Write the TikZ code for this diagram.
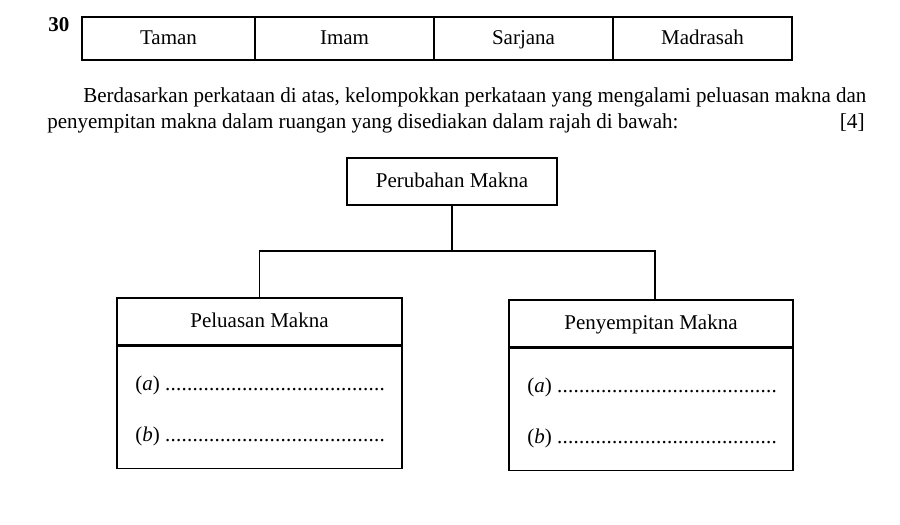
\documentclass[tikz,border=0pt]{standalone}
\usepackage{fontspec}
\setmainfont{Liberation Serif}
\usepackage{graphicx}
\tikzset{
  px/.style={x=0.6pt,y=-0.6pt},
  cell/.style={draw, line width=0.8pt, inner sep=0pt, minimum height=25.8pt, text height=9.6pt, text depth=2.2pt, font=\fontsize{12.6}{15}\selectfont},
  head/.style={draw, line width=0.8pt, inner sep=0pt, minimum height=28.2pt, text height=9.6pt, text depth=2.2pt, font=\fontsize{12.6}{15}\selectfont},
  body/.style={draw, line width=0.8pt, inner sep=0pt, minimum height=73.2pt},
  lbl/.style={inner sep=0pt, anchor=base west, font=\fontsize{12.6}{15}\selectfont},
  ptext/.style={inner sep=0pt, anchor=base west, font=\fontsize{12.8}{15}\selectfont},
  conn/.style={line width=0.8pt}
}
\newcommand{\dotrow}[1]{\hbox to #1{\leaders\hbox to 3.3pt{\hss.\hss}\hfill}}
\begin{document}
\begin{tikzpicture}[px]
\useasboundingbox (0,0) rectangle (900,524);
% question number
\node[ptext, font=\fontsize{12.6}{15}\selectfont\bfseries] (num) at (48,31) {30};
% word table
\node[cell, minimum width=103.8pt] (c1) at (168.5,38.5) {Taman};
\node[cell, minimum width=107.4pt] (c2) at (344.5,38.5) {Imam};
\node[cell, minimum width=107.4pt] (c3) at (523.5,38.5) {Sarjana};
\node[cell, minimum width=107.4pt] (c4) at (702.5,38.5) {Madrasah};
% paragraph
\node[ptext] (p1) at (83,102) {\resizebox{469.8pt}{\height}{Berdasarkan perkataan di atas, kelompokkan perkataan yang mengalami peluasan makna dan}};
\node[ptext] (p2) at (47,128) {\resizebox{378.6pt}{\height}{penyempitan makna dalam ruangan yang disediakan dalam rajah di bawah:}};
\node[ptext, anchor=base east] (mk) at (865,128) {[4]};
% diagram
\node[head, minimum width=126pt] (top) at (452,181.5) {Perubahan Makna};
\node[head, minimum width=171pt] (lh) at (259.5,321.5) {Peluasan Makna};
\node[body, minimum width=171pt, anchor=north] (lb) at (lh.south) {};
\node[head, minimum width=170.4pt] (rh) at (651,323.5) {Penyempitan Makna};
\node[body, minimum width=170.4pt, anchor=north] (rb) at (rh.south) {};
\coordinate (j) at (452,251);
\coordinate (rd) at ([xshift=2.4pt]rh.north);
\draw[conn] (top.south) -- (j);
\draw[conn] (lh.north) -- (lh.north |- j) -- (rd |- j) -- (rd);
% answer lines
\node[lbl] (la) at (135,390) {(\textit{a})\ \dotrow{134pt}};
\node[lbl] (lbb) at (135,441) {(\textit{b})\ \dotrow{134pt}};
\node[lbl] (ra) at (527,392) {(\textit{a})\ \dotrow{134pt}};
\node[lbl] (rbb) at (527,443) {(\textit{b})\ \dotrow{134pt}};
\end{tikzpicture}
\end{document}
